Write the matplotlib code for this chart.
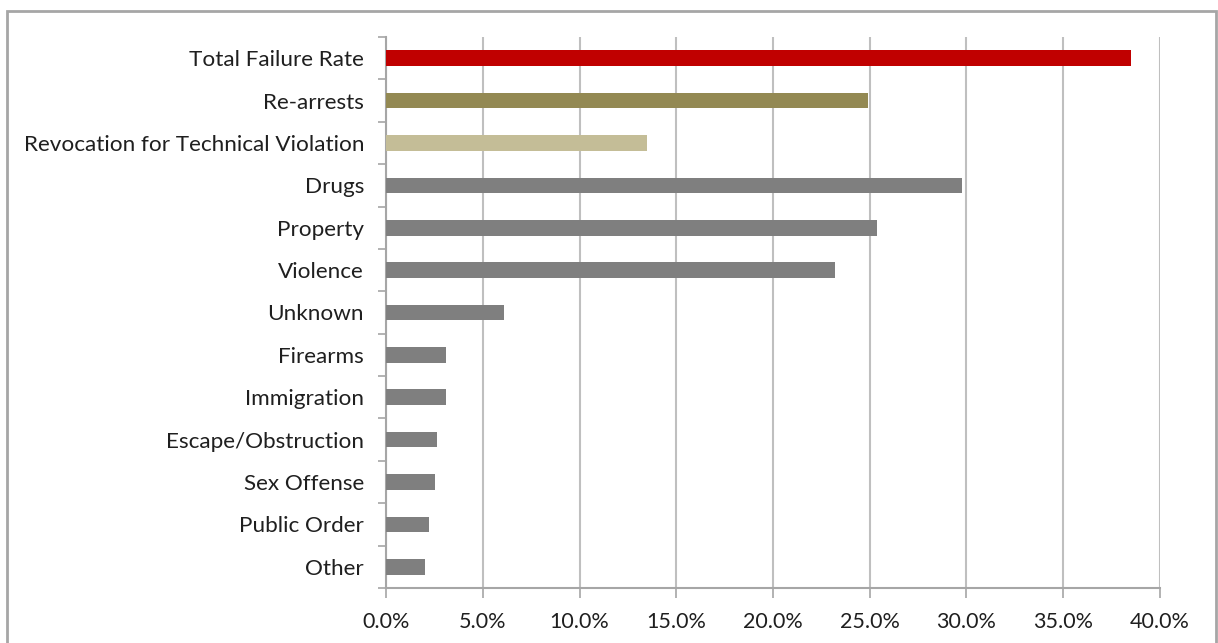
import matplotlib
matplotlib.use("Agg")
import matplotlib.pyplot as plt
from matplotlib.patches import Rectangle
from matplotlib.ticker import FixedLocator, FuncFormatter

categories = [
    "Total Failure Rate", "Re-arrests", "Revocation for Technical Violation",
    "Drugs", "Property", "Violence", "Unknown", "Firearms", "Immigration",
    "Escape/Obstruction", "Sex Offense", "Public Order", "Other",
]
values = [38.5, 24.9, 13.5, 29.8, 25.4, 23.2, 6.1, 3.1, 3.1, 2.6, 2.5, 2.2, 2.0]
bar_colors = ["#C00000", "#938953", "#C4BD97"] + ["#7F7F7F"] * 10
x_ticks = [0, 5, 10, 15, 20, 25, 30, 35, 40]

W, H = 1218, 643
fig = plt.figure(figsize=(W / 100, H / 100), dpi=100)
fig.patch.set_facecolor("white")

# outer chart frame
fig.patches.append(Rectangle((7 / W, -0.05), (1216 - 7) / W, (H - 11) / H + 0.05,
                             transform=fig.transFigure, fill=False,
                             edgecolor="#A6A6A6", linewidth=2.0))

ax = fig.add_axes([386.3 / W, 1 - 588 / H, (1159.7 - 386.3) / W, (588 - 37) / H])

n = len(categories)
ypos = list(range(n))
ax.barh(ypos, values, height=0.37, color=bar_colors, zorder=3)

ax.set_xlim(0, 40)
ax.set_ylim(n - 0.5, -0.5)

ax.xaxis.set_major_locator(FixedLocator(x_ticks))
ax.xaxis.set_major_formatter(FuncFormatter(lambda v, p: f"{v:.1f}%"))
ax.grid(axis="x", color="#BFBFBF", linewidth=1.5, zorder=0)

ax.set_yticks(ypos)
ax.set_yticklabels(categories)
ax.yaxis.set_minor_locator(FixedLocator([i - 0.5 for i in range(n + 1)]))
ax.tick_params(axis="y", which="major", length=0, pad=16)
ax.tick_params(axis="y", which="minor", length=6, width=1.2, color="#A6A6A6")
ax.tick_params(axis="x", which="major", length=7, width=1.2, color="#A6A6A6", pad=10)

for lab in ax.get_yticklabels():
    lab.set_fontfamily("Lato")
    lab.set_fontsize(16.2)
    lab.set_color("#1F1F1F")
for lab in ax.get_xticklabels():
    lab.set_fontfamily("Lato")
    lab.set_fontsize(15.5)
    lab.set_color("#1F1F1F")

for side in ("top", "right"):
    ax.spines[side].set_visible(False)
for side in ("left", "bottom"):
    ax.spines[side].set_color("#A6A6A6")
    ax.spines[side].set_linewidth(1.5)

fig.savefig("out.png", dpi=100, facecolor="white")
